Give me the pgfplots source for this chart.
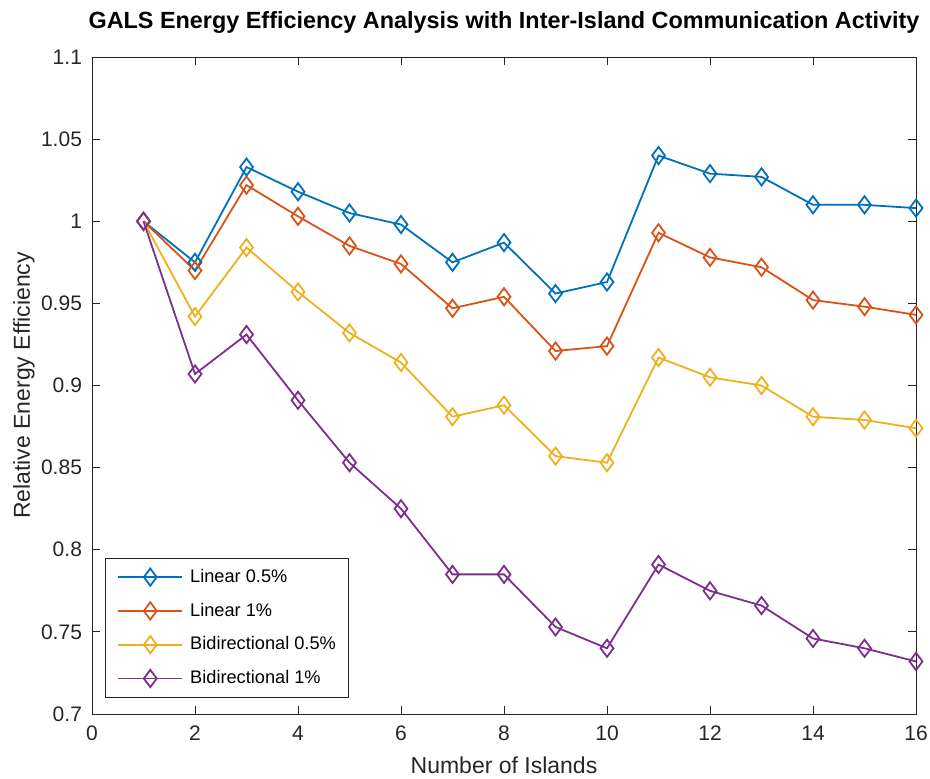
\documentclass[border=0pt]{standalone}
\usepackage{fontspec}
\setmainfont{Liberation Sans}
\usepackage{pgfplots}
\pgfplotsset{compat=1.18}

\definecolor{mblue}{rgb}{0,0.447,0.741}
\definecolor{morange}{rgb}{0.85,0.325,0.098}
\definecolor{myellow}{rgb}{0.929,0.694,0.125}
\definecolor{mpurple}{rgb}{0.494,0.184,0.556}
\definecolor{axgray}{rgb}{0.15,0.15,0.15}

\begin{document}
\begin{tikzpicture}
\begin{axis}[
  name=ax,
  scale only axis,
  width=412pt, height=328.5pt,
  xmin=0, xmax=16, ymin=0.7, ymax=1.1,
  xtick={0,2,...,16},
  ytick={0.7,0.75,...,1.1},
  /pgf/number format/assume math mode=true,
  yticklabel style={/pgf/number format/fixed, /pgf/number format/precision=2},
  tick label style={font=\fontsize{10.5}{12}\selectfont, text=axgray},
  xticklabel style={yshift=-2.5pt},
  yticklabel style={xshift=-1.5pt},
  tick align=inside,
  major tick length=4pt,
  axis line style={axgray, line width=0.4pt},
  every tick/.style={axgray, line width=0.4pt},
  xlabel={Number of Islands},
  ylabel={Relative Energy Efficiency},
  every axis x label/.style={at={(0.5,0)}, anchor=base, yshift=-29.5pt,
    font=\fontsize{11.5}{13}\selectfont, text=axgray},
  every axis y label/.style={at={(0,0.5)}, rotate=90, anchor=base, yshift=31pt,
    font=\fontsize{11.5}{13}\selectfont, text=axgray},
  title={\bfseries GALS Energy Efficiency Analysis with Inter-Island Communication Activity},
  every axis title/.style={at={(0.5,1)}, anchor=base, yshift=14.5pt,
    font=\fontsize{11.7}{13}\selectfont},
  every axis plot/.append style={line width=0.9pt, mark=diamond, mark size=4.3pt, mark options={solid, line width=0.9pt}},
  legend cell align=left,
  legend style={at={(0.0158,0.0244)}, anchor=south west, draw=axgray, line width=0.4pt,
    font=\fontsize{9.1}{11}\selectfont, row sep=4.8pt, inner xsep=3pt, inner ysep=3.5pt,
    nodes={inner xsep=3.5pt}},
  legend image code/.code={
    \path (0pt,0pt);
    \draw[mark repeat=2, mark phase=2] plot coordinates {(3pt,0pt) (19pt,0pt) (35pt,0pt)};
  },
]
\addplot[mblue] coordinates {
(1,1.000) (2,0.975) (3,1.033) (4,1.018) (5,1.005) (6,0.998) (7,0.975) (8,0.987)
(9,0.956) (10,0.963) (11,1.040) (12,1.029) (13,1.027) (14,1.010) (15,1.010) (16,1.008)};
\addlegendentry{Linear 0.5\%}
\addplot[morange] coordinates {
(1,1.000) (2,0.970) (3,1.022) (4,1.003) (5,0.985) (6,0.974) (7,0.947) (8,0.954)
(9,0.921) (10,0.924) (11,0.993) (12,0.978) (13,0.972) (14,0.952) (15,0.948) (16,0.943)};
\addlegendentry{Linear 1\%}
\addplot[myellow] coordinates {
(1,1.000) (2,0.942) (3,0.984) (4,0.957) (5,0.932) (6,0.914) (7,0.881) (8,0.888)
(9,0.857) (10,0.853) (11,0.917) (12,0.905) (13,0.900) (14,0.881) (15,0.879) (16,0.874)};
\addlegendentry{Bidirectional 0.5\%}
\addplot[mpurple] coordinates {
(1,1.000) (2,0.907) (3,0.931) (4,0.891) (5,0.853) (6,0.825) (7,0.785) (8,0.785)
(9,0.753) (10,0.740) (11,0.791) (12,0.775) (13,0.766) (14,0.746) (15,0.740) (16,0.732)};
\addlegendentry{Bidirectional 1\%}
\end{axis}
\pgfresetboundingbox
\path[use as bounding box] (-46pt,-32pt) rectangle (419pt,357pt);
\end{tikzpicture}
\end{document}
